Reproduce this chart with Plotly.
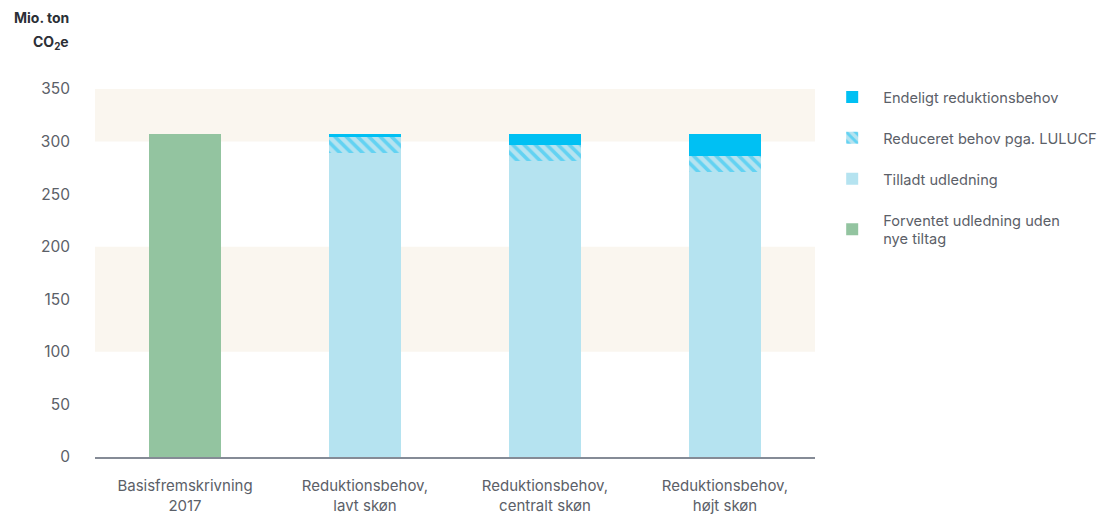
import plotly.graph_objects as go

# Categories on the x axis
categories = [
    "Basisfremskrivning<br>2017",
    "Reduktionsbehov,<br>lavt skøn",
    "Reduktionsbehov,<br>centralt skøn",
    "Reduktionsbehov,<br>højt skøn",
]

# Series values (Mio. ton CO2e)
forventet = [307, None, None, None]
tilladt = [None, 289, 282, 271]
reduceret_lulucf = [None, 15, 15, 15]
endeligt = [None, 3, 10, 21]

y_ticks = [0, 50, 100, 150, 200, 250, 300, 350]

FONT = "Inter"
TEXT_GRAY = "#5b6068"

fig = go.Figure()

fig.add_trace(go.Bar(
    x=categories, y=forventet, name="Forventet udledning uden<br>nye tiltag",
    marker=dict(color="#93c4a0", line=dict(width=0)),
    legendgroup="d", legendrank=4,
))
fig.add_trace(go.Bar(
    x=categories, y=tilladt, name="Tilladt udledning",
    marker=dict(color="#b5e3f0", line=dict(width=0)),
    legendgroup="c", legendrank=3,
))
fig.add_trace(go.Bar(
    x=categories, y=reduceret_lulucf, name="Reduceret behov pga. LULUCF",
    marker=dict(
        color="#b5e3f0", line=dict(width=0),
        pattern=dict(shape="\\", fgcolor="#12c1f3", bgcolor="#b5e3f0",
                     fillmode="overlay", size=8, solidity=0.45),
    ),
    legendgroup="b", legendrank=2,
))
fig.add_trace(go.Bar(
    x=categories, y=endeligt, name="Endeligt reduktionsbehov",
    marker=dict(color="#00c0f3", line=dict(width=0)),
    legendgroup="a", legendrank=1,
))

# Light beige background bands
for y0, y1 in [(100, 200), (300, 350)]:
    fig.add_shape(type="rect", xref="paper", yref="y", x0=0, x1=1, y0=y0, y1=y1,
                  fillcolor="#faf6ef", line=dict(width=0), layer="below")

# Unit label above the y axis, two lines
for txt, ypos in [("<b>Mio. ton</b>", 1.193), ("<b>CO<sub>2</sub>e</b>", 1.126)]:
    fig.add_annotation(
        text=txt, xref="paper", yref="paper",
        x=-0.034, y=ypos, xanchor="right", yanchor="middle", align="right",
        showarrow=False, font=dict(family=FONT, size=14, color="#2b2f36"),
    )

fig.update_layout(
    width=1107, height=514,
    margin=dict(l=95, r=292, t=89, b=57, autoexpand=False),
    paper_bgcolor="white", plot_bgcolor="white",
    barmode="stack", bargap=0.6,
    font=dict(family=FONT, size=15, color=TEXT_GRAY),
    showlegend=True,
    legend=dict(
        x=1.0086, y=1.022, xanchor="left", yanchor="top",
        traceorder="grouped", tracegroupgap=19, itemwidth=52,
        font=dict(family=FONT, size=14.6, color=TEXT_GRAY),
        bgcolor="rgba(0,0,0,0)",
    ),
    xaxis=dict(
        showgrid=False, showline=True, linecolor="#858b96", linewidth=2,
        ticks="", ticklabelstandoff=14, automargin=False,
        tickfont=dict(family=FONT, size=15, color=TEXT_GRAY),
    ),
    yaxis=dict(
        range=[0, 350], tickvals=y_ticks, showgrid=False, zeroline=False,
        showline=False, ticks="", ticklabelstandoff=24, automargin=False,
        tickfont=dict(family=FONT, size=15.5, color=TEXT_GRAY),
    ),
)

fig.write_html("out.html")
